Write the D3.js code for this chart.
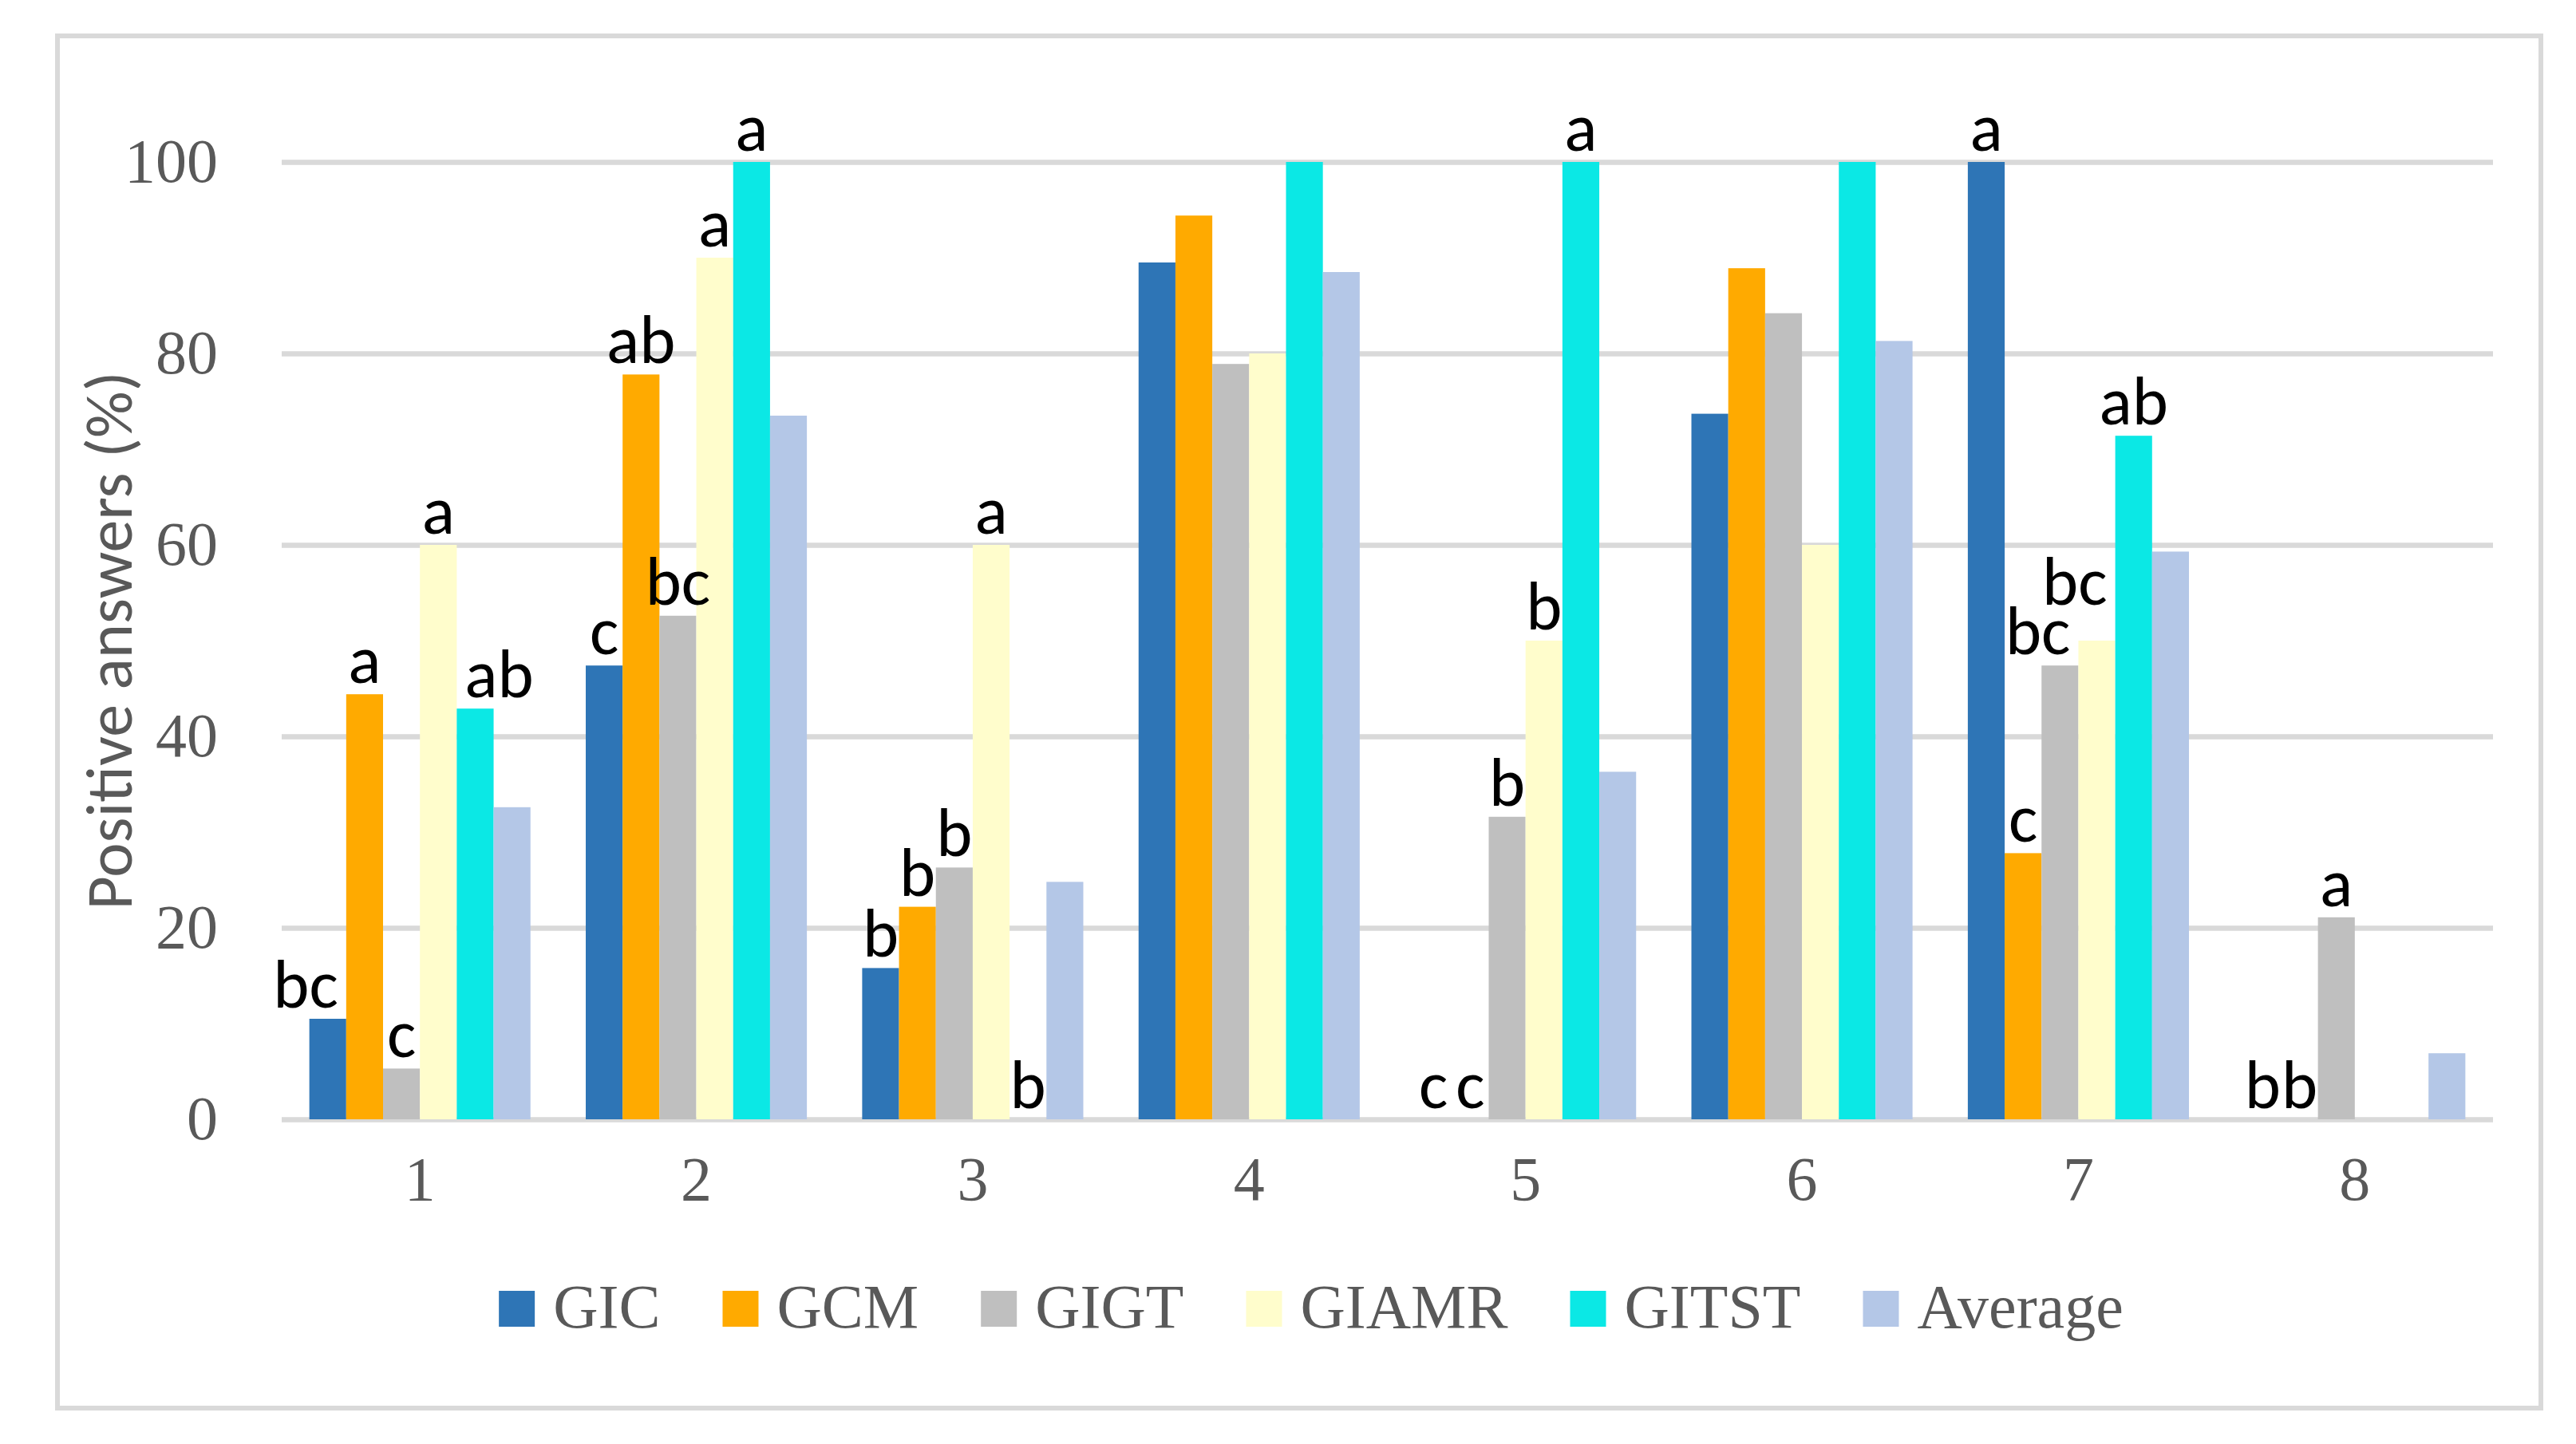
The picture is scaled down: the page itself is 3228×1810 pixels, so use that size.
<!DOCTYPE html>
<html>
<head>
<meta charset="utf-8">
<script src="https://cdn.jsdelivr.net/npm/d3@7"></script>
<style>
  html, body { margin: 0; padding: 0; background: #fff; }
</style>
</head>
<body>
<svg width="3228" height="1810"></svg>
<script>
// данные
const categories = ["1", "2", "3", "4", "5", "6", "7", "8"];
const seriesNames = ["GIC", "GCM", "GIGT", "GIAMR", "GITST", "Average"];
const gic     = [10.5, 47.4, 15.8, 89.5, 0, 73.7, 100, 0];
const gcm     = [44.4, 77.8, 22.2, 94.4, 0, 88.9, 27.8, 0];
const gigt    = [5.3, 52.6, 26.3, 78.9, 31.6, 84.2, 47.4, 21.1];
const giamr   = [60, 90, 60, 80, 50, 60, 50, 0];
const gitst   = [42.9, 100, 0, 100, 100, 100, 71.4, 0];
const average = [32.6, 73.5, 24.8, 88.5, 36.3, 81.3, 59.3, 6.9];
// буквы значимости над столбцами
const gicLetters   = ["bc", "c", "b", "", "c", "", "a", "b"];
const gcmLetters   = ["a", "ab", "b", "", "c", "", "c", "b"];
const gigtLetters  = ["c", "bc", "b", "", "b", "", "bc", "a"];
const giamrLetters = ["a", "a", "a", "", "b", "", "bc", ""];
const gitstLetters = ["ab", "a", "b", "", "a", "", "ab", ""];
const avgLetters   = ["", "", "", "", "", "", "", ""];
const yTicks = [0, 20, 40, 60, 80, 100];
const colors = ["#2E75B6", "#FFAA00", "#BFBFBF", "#FFFDCC", "#0BE8E5", "#B4C7E7"];

const values = [gic, gcm, gigt, giamr, gitst, average];
const letters = [gicLetters, gcmLetters, gigtLetters, giamrLetters, gitstLetters, avgLetters];

const svg = d3.select("svg");
const W = +svg.attr("width");
const H = +svg.attr("height");

const grey = "#595959";
const serif = "'Liberation Serif', 'Times New Roman', serif";
const sans = "Carlito, Calibri, Lato, 'Open Sans', sans-serif";

svg.append("rect").attr("width", W).attr("height", H).attr("fill", "#fff");
// рамка диаграммы
svg.append("rect")
    .attr("x", 72).attr("y", 45).attr("width", 3112).attr("height", 1720)
    .attr("fill", "none").attr("stroke", "#D9D9D9").attr("stroke-width", 6);

const plot = {left: 353, right: 3124, top: 203, bottom: 1403};

const x0 = d3.scaleBand().domain(categories).range([plot.left, plot.right]);
const step = x0.bandwidth();
const barW = step / 7.5; // gap width 150%
const x1 = d3.scaleBand().domain(seriesNames)
    .range([(step - barW * 6) / 2, (step + barW * 6) / 2]);
const y = d3.scaleLinear().domain([0, 100]).range([plot.bottom, plot.top]);

// сетка и подписи оси Y
const yAxis = svg.append("g")
    .attr("transform", `translate(${plot.left},0)`)
    .call(d3.axisLeft(y).tickValues(yTicks).tickSize(-(plot.right - plot.left)).tickPadding(80));
yAxis.select(".domain").remove();
yAxis.selectAll(".tick line").attr("stroke", "#D9D9D9").attr("stroke-width", 6.5);
yAxis.selectAll(".tick text")
    .attr("font-family", serif).attr("font-size", 78).attr("fill", grey);

// ось X
const xAxis = svg.append("g")
    .attr("transform", `translate(0,${plot.bottom})`)
    .call(d3.axisBottom(x0).tickSize(0).tickPadding(78));
xAxis.select(".domain").remove();
xAxis.selectAll(".tick text")
    .attr("font-family", serif).attr("font-size", 78).attr("fill", grey)
    .attr("dy", "0.3em");

// столбцы
const rows = [];
categories.forEach((c, i) => {
    seriesNames.forEach((s, j) => {
        rows.push({cat: c, i: i, s: s, j: j, v: values[j][i], lab: letters[j][i]});
    });
});

svg.append("g").selectAll("rect")
    .data(rows)
    .join("rect")
    .attr("x", d => x0(d.cat) + x1(d.s))
    .attr("y", d => y(d.v))
    .attr("width", x1.bandwidth())
    .attr("height", d => y(0) - y(d.v))
    .attr("fill", d => colors[d.j]);

// буквы над столбцами: сдвиг от более высокого соседа и подъём при наложении
const fs = 86;
const bw = x1.bandwidth();
const labG = svg.append("g");
categories.forEach((c, i) => {
    const placed = [];
    rows.filter(d => d.i === i && d.lab).forEach(d => {
        const bx = x0(d.cat) + x1(d.s);
        let base = y(d.v) - 14;
        const t = labG.append("text")
            .attr("y", base)
            .attr("font-family", sans).attr("font-size", fs)
            .attr("fill", "#000")
            .text(d.lab);
        const w = t.node().getComputedTextLength();
        let lx = bx + bw / 2 - w / 2;
        // соседние столбцы, которые выше подписи
        const left = d.j > 0 ? values[d.j - 1][i] : null;
        const right = d.j < seriesNames.length - 1 ? values[d.j + 1][i] : null;
        const hitL = left !== null && lx < bx && y(left) < base;
        const hitR = right !== null && lx + w > bx + bw && y(right) < base;
        if (hitR && !hitL) lx = bx + bw - 10 - w;
        if (hitL && !hitR) lx = bx + 10;
        t.attr("x", lx);
        let box = {x: lx, w: w, top: base - 0.7 * fs, bottom: base + 0.02 * fs};
        placed.forEach(p => {
            const overlapX = box.x < p.x + p.w && box.x + box.w > p.x;
            const overlapY = box.top < p.bottom && box.bottom > p.top;
            if (overlapX && overlapY) {
                base = p.top - 2;
                t.attr("y", base);
                box = {x: lx, w: w, top: base - 0.7 * fs, bottom: base + 0.02 * fs};
            }
        });
        placed.push(box);
    });
});

// подпись оси Y
svg.append("text")
    .attr("transform", `translate(165,803) rotate(-90)`)
    .attr("text-anchor", "middle")
    .attr("font-family", sans).attr("font-size", 82)
    .attr("fill", grey)
    .text("Positive answers (%)");

// легенда
const legend = svg.append("g");
let lx = 0;
seriesNames.forEach((s, j) => {
    const item = legend.append("g").attr("transform", `translate(${lx},0)`);
    item.append("rect")
        .attr("x", 0).attr("y", -46).attr("width", 45).attr("height", 45)
        .attr("fill", colors[j]);
    const t = item.append("text")
        .attr("x", 68).attr("y", 0)
        .attr("font-family", serif).attr("font-size", 78)
        .attr("fill", grey)
        .text(s);
    lx += 68 + t.node().getComputedTextLength() + 78;
});
const legendW = lx - 78;
legend.attr("transform", `translate(${1643 - legendW / 2},1664)`);
</script>
</body>
</html>
